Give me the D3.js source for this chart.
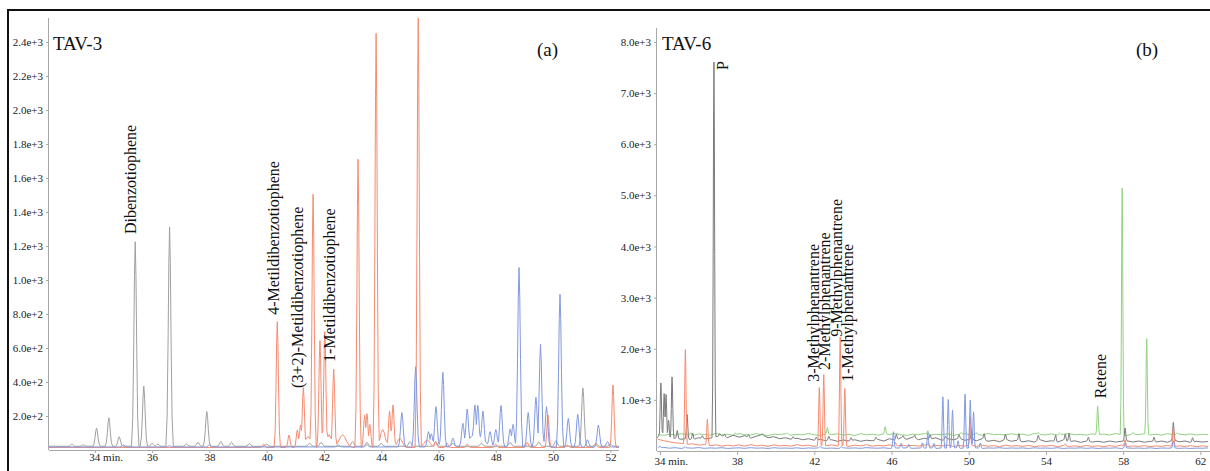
<!DOCTYPE html>
<html><head><meta charset="utf-8">
<script src="https://cdn.jsdelivr.net/npm/d3@7"></script>
<style>
html,body{margin:0;padding:0;background:#fff;}
svg{display:block;font-family:"Liberation Serif","Times New Roman",serif;}
</style></head>
<body><svg id="chart" width="1210" height="471"></svg>
<script>
// ---------- DATA ----------
// peaks: [retention time (min), intensity, optional half-width]
const panelTitles = ["TAV-3", "TAV-6"];
const panelTags = ["(a)", "(b)"];

const leftXTicks = [34, 36, 38, 40, 42, 44, 46, 48, 50, 52];
const leftYTicks = [200, 400, 600, 800, 1000, 1200, 1400, 1600, 1800, 2000, 2200, 2400];
const rightXTicks = [34, 38, 42, 46, 50, 54, 58, 62];
const rightYTicks = [1000, 2000, 3000, 4000, 5000, 6000, 7000, 8000];

const leftBase = { gray: 22, salmon: 15, blue: 18 };
const tav3Gray = [[33.2,34],[33.6,30],[34.06,129],[34.49,190],[34.85,78],[35.41,1225],[35.71,376],[36.0,40],[36.2,35],[36.61,1312],[37.2,35],[37.6,45],[37.91,226],[38.4,50],[38.77,45],[39.4,38],[40.0,35],[41.5,40],[41.9,45],[43.0,50],[43.5,45],[44.0,40],[45.0,50],[45.9,48],[46.5,40],[47.5,40],[48.5,45],[49.5,48],[50.1,55],[51.04,365],[51.5,40],[52.0,35]];
const tav3Salmon = [[39.9,35],[40.37,755],[40.78,88],[41.07,118],[41.18,147],[41.28,367],[41.45,80,0.25],[41.62,1504],[41.86,643],[42.03,696],[42.18,90,0.2],[42.34,475],[42.65,90,0.35],[43.19,1710],[43.42,206],[43.5,214],[43.6,150],[43.82,2451],[44.05,120,0.25],[44.29,229],[44.41,265],[44.65,70,0.25],[45.29,2540],[45.6,60,0.3],[45.9,50],[46.3,40],[47.0,35],[48.0,35],[49.1,45],[49.82,206],[50.5,30],[51.5,30],[52.09,382]];
const tav3Blue = [[35.0,30],[36.6,25],[38.0,30],[42.5,30],[43.5,30],[44.72,220],[45.2,490],[45.65,108],[45.75,95],[45.91,255],[46.15,457],[46.5,70],[46.85,157],[47.0,241],[47.27,265],[47.37,262],[47.3,95,0.7],[47.55,229],[47.8,108],[48.0,120],[48.18,261],[48.5,123],[48.6,150],[48.81,1073],[49.13,220],[49.4,310],[49.56,622],[49.77,255],[50.24,916],[50.53,186],[50.86,210],[51.2,60],[51.58,147],[51.9,50]];

// TAV-6 baselines: one reading every 0.3 min from 33.9 min
const rightBaseStart = 33.9, rightBaseStep = 0.3;
const tav6GrayBaseline = [260,250,240,250,230,240,220,260,240,250,280,300,260,310,270,300,250,290,320,260,280,240,260,230,250,220,240,210,230,200,220,190,215,195,220,190,210,200,225,195,240,210,260,230,270,220,250,230,260,210,240,220,250,210,230,200,240,190,210,180,230,190,210,180,200,175,220,185,200,175,215,180,200,170,195,175,190,170,195,175,190,200,175,195,170,190,175,195,170,220,180,195,170,190,175,185];
const tav6GreenBaseline = [320,305,330,312,340,318,300,335,322,310,345,315,328,305,338,320,312,342,318,300,330,322,336,310,326,315,344,318,305,332,320,338,312,326,300,340,316,330,310,335,322,345,318,306,330,320,340,312,328,318,336,305,325,340,315,330,310,342,320,326,312,338,318,330,305,344,322,315,335,310,328,340,318,324,310,336,320,330,312,342,318,306,332,322,338,314,326,310,340,320,330,316,335,312,328,320];
const tav6SalmonBaseline = [230,200,180,160,150,130,140,115,125,105,120,95,115,100,120,95,125,100,115,90,120,100,110,95,125,100,115,90,110,100,120,95,110,90,115,100,125,95,110,100,120,90,115,100,110,95,120,90,110,100,115,90,105,95,120,90,110,95,105,85,115,95,105,90,110,85,100,95,110,85,105,90,100,85,110,90,100,85,105,90,115,85,100,90,105,85,100,90,110,85,100,90,105,85,100,90];
const tav6BlueBaseline = [60,70,55,65,50,62,55,68,52,60,55,65,50,58,62,52,66,55,60,50,64,55,58,52,62,50,60,55,65,52,58,50,62,55,60,52,66,58,55,62,50,60,56,64,52,58,55,62,50,60,55,66,52,58,54,62,50,60,56,64,52,58,55,60,50,62,55,58,52,64,50,58,55,62,52,60,50,58,55,62,50,60,54,58,52,62,50,58,55,60,52,58,50,56,54,60];

const tav6Green = [[35.6,360],[37.9,355],[40.6,352],[42.68,462],[45.67,474],[47.88,400],[49.6,360],[50.4,358],[53.6,365],[54.7,352],[56.68,877],[57.95,5140],[58.5,365],[59.22,2197],[60.8,355]];
const tav6Gray = [[33.95,300],[34.05,1331],[34.22,1124],[34.32,1105],[34.45,600],[34.63,1449],[34.9,400],[35.41,715],[35.7,350],[36.2,300],[36.8,7608],[37.1,340],[37.35,330],[38.6,320],[39.3,340],[40.9,280],[42.1,270],[42.75,290],[43.9,260],[45.2,270],[46.25,330],[46.6,300],[47.2,310],[48.0,320],[48.8,290],[49.5,320],[50.15,420],[50.8,340],[51.9,330],[52.6,340],[53.6,310],[54.5,310],[55.0,330],[55.2,350],[56.2,270],[58.1,450],[59.6,270],[60.6,560],[61.6,260]];
const tav6Salmon = [[35.32,1982],[36.46,618],[42.26,1241],[42.49,1495],[43.34,2228],[43.58,1222],[46.2,170],[47.9,150],[50.07,669],[50.6,150],[55.0,140],[58.1,220],[60.6,450]];
const tav6Blue = [[34.0,100],[35.3,90],[42.3,90],[43.4,90],[46.1,376],[46.5,150],[46.9,130],[47.6,160],[47.88,357],[48.2,150],[48.66,1058],[48.94,1007],[49.16,800],[49.45,200],[49.81,1111],[50.08,994],[50.25,767],[50.6,150],[58.1,150],[60.6,200]];

// compound labels: [text, retention time of text baseline, intensity where the text starts]
const tav3Labels = [["Dibenzotiophene",35.42,1270],["4-Metildibenzotiophene",40.43,795],["(3+2)-Metildibenzotiophene",41.285,365],["1-Metildibenzotiophene",42.37,517]];
const tav6Labels = [["P",37.53,7450],["3-Methylphenantrene",42.24,1355],["2-Methylphenantrene",42.79,1584],["9-Methylphenantrene",43.46,2235],["1-Methylphenantrene",43.98,1355],["Retene",57.11,1030]];

// ---------- DRAW ----------
const svg = d3.select("#chart");
const colors = { gray: "#a0a0a0", grayDark: "#7a7a7a", salmon: "#f68b70", blue: "#8199e0", green: "#92d282" };
// peak outline (offset in half-widths, fraction of height) — a drawing shape only
const PEAK_SHAPE = [[-1,0],[-0.667,0.135],[-0.4,0.487],[-0.2,0.835],[0,1],[0.2,0.835],[0.4,0.487],[0.667,0.135],[1,0]];

// outer frame
svg.append("line").attr("x1",7).attr("x2",1210).attr("y1",10).attr("y2",10).attr("stroke","#111").attr("stroke-width",2);
svg.append("line").attr("x1",8).attr("x2",8).attr("y1",9).attr("y2",471).attr("stroke","#111").attr("stroke-width",2);

function baselinePoints(values, start, step) {
  return values.map((v, i) => [start + i * step, v]);
}

function buildPoints(peaks, basePts, hw) {
  const bx = basePts.map(d => d[0]);
  const bisect = d3.bisector(d => d).left;
  const baseAt = t => {
    let i = bisect(bx, t);
    if (i <= 0) return basePts[0][1];
    if (i >= basePts.length) return basePts[basePts.length-1][1];
    const a = basePts[i-1], b = basePts[i];
    return a[1] + (b[1]-a[1]) * (t - a[0]) / (b[0]-a[0]);
  };
  const shapeAt = u => {
    if (u <= -1 || u >= 1) return 0;
    for (let k = 1; k < PEAK_SHAPE.length; k++) {
      if (u <= PEAK_SHAPE[k][0]) {
        const a = PEAK_SHAPE[k-1], b = PEAK_SHAPE[k];
        return a[1] + (b[1]-a[1]) * (u - a[0]) / (b[0]-a[0]);
      }
    }
    return 0;
  };
  const pk = peaks.map(p => ({ t: p[0], w: p[2] || hw, amp: p[1] - baseAt(p[0]) }));
  const ts = basePts.map(d => d[0]);
  pk.forEach(p => PEAK_SHAPE.forEach(s => ts.push(p.t + s[0] * p.w)));
  ts.sort((a,b) => a-b);
  return ts.map(t => {
    let add = 0;
    pk.forEach(p => { const v = shapeAt((t - p.t) / p.w) * p.amp; if (v > add) add = v; });
    return [t, baseAt(t) + add];
  });
}

function panel(cfg) {
  const x = d3.scaleLinear().domain(cfg.xDom).range(cfg.xRange);
  const y = d3.scaleLinear().domain(cfg.yDom).range(cfg.yRange);
  const g = svg.append("g");
  const clipId = "clip" + cfg.id;
  svg.append("clipPath").attr("id", clipId).append("rect")
    .attr("x", cfg.xRange[0]).attr("y", cfg.yRange[1]-2)
    .attr("width", cfg.xRange[1]-cfg.xRange[0]).attr("height", cfg.yRange[0]-cfg.yRange[1]+2);

  // axes
  const yAxis = d3.axisLeft(y).tickValues(cfg.yTicks).tickSize(3).tickPadding(3).tickFormat(d3.format(".1e"));
  const ya = g.append("g").attr("transform", `translate(${cfg.xRange[0]},0)`).call(yAxis);
  const xAxis = d3.axisBottom(x).tickValues(cfg.xTicks).tickSize(cfg.tickLen).tickPadding(cfg.tickPad)
    .tickFormat((d,i) => i === 0 ? d + " min." : d);
  const xa = g.append("g").attr("transform", `translate(0,${cfg.yRange[0]})`).call(xAxis);
  [ya, xa].forEach(a => {
    a.attr("font-family", "Liberation Serif, serif").attr("font-size", 11);
    a.select(".domain").attr("stroke", "#a8a8a8");
    a.selectAll(".tick line").attr("stroke", "#a8a8a8");
    a.selectAll("text").attr("fill", "#222").style("font-family", "'Liberation Serif', serif");
  });
  ya.select(".domain").attr("d", `M-0.5,${cfg.yRange[1]}V${cfg.yRange[0]}`);
  xa.select(".domain").attr("d", `M${cfg.xRange[0]},0.5H${cfg.xRange[1]}`);
  xa.selectAll(".tick").filter((d,i) => i === 0).select("text")
    .attr("text-anchor", "start").attr("x", -6);

  // traces
  const line = d3.line().x(d => x(d[0])).y(d => y(d[1]));
  const tg = svg.append("g").attr("clip-path", `url(#${clipId})`);
  cfg.series.forEach(s => {
    tg.append("path").datum(buildPoints(s.peaks, s.basePts, s.hw || cfg.hw))
      .attr("d", line).attr("fill", "none").attr("stroke", s.color)
      .attr("stroke-width", 1).attr("stroke-linejoin", "round");
  });

  // titles
  svg.append("text").attr("x", cfg.titleX).attr("y", 50).text(cfg.title)
    .attr("font-size", 19).attr("fill", "#111");
  svg.append("text").attr("x", cfg.tagX).attr("y", 56).text(cfg.tag)
    .attr("font-size", 19).attr("fill", "#111");

  // compound labels
  cfg.labels.forEach(l => {
    svg.append("text").attr("transform", `translate(${x(l[1])},${y(l[2])}) rotate(-90)`)
      .text(l[0]).attr("font-size", 16).attr("fill", "#111");
  });
}

const lDom = [32.4, 52.3], rDom = [33.85, 62.5];
const flat = (b, dom) => [[dom[0], b], [dom[1], b]];

panel({
  id: "a", xDom: lDom, xRange: [49, 619], yDom: [0, 2541], yRange: [450, 18],
  xTicks: leftXTicks, yTicks: leftYTicks, tickLen: 3, tickPad: 0, hw: 0.13,
  title: panelTitles[0], titleX: 53, tag: panelTags[0], tagX: 537,
  series: [
    { peaks: tav3Gray, basePts: flat(leftBase.gray, lDom), color: colors.gray },
    { peaks: tav3Salmon, basePts: flat(leftBase.salmon, lDom), color: colors.salmon, hw: 0.11 },
    { peaks: tav3Blue, basePts: flat(leftBase.blue, lDom), color: colors.blue }
  ],
  labels: tav3Labels
});

panel({
  id: "b", xDom: rDom, xRange: [657, 1210], yDom: [0, 8273], yRange: [451, 28],
  xTicks: rightXTicks, yTicks: rightYTicks, tickLen: 4, tickPad: 2, hw: 0.1,
  title: panelTitles[1], titleX: 662, tag: panelTags[1], tagX: 1136,
  series: [
    { peaks: tav6Green, basePts: baselinePoints(tav6GreenBaseline, rightBaseStart, rightBaseStep), color: colors.green },
    { peaks: tav6Gray, basePts: baselinePoints(tav6GrayBaseline, rightBaseStart, rightBaseStep), color: colors.grayDark },
    { peaks: tav6Salmon, basePts: baselinePoints(tav6SalmonBaseline, rightBaseStart, rightBaseStep), color: colors.salmon },
    { peaks: tav6Blue, basePts: baselinePoints(tav6BlueBaseline, rightBaseStart, rightBaseStep), color: colors.blue }
  ],
  labels: tav6Labels
});
</script>
</body></html>
